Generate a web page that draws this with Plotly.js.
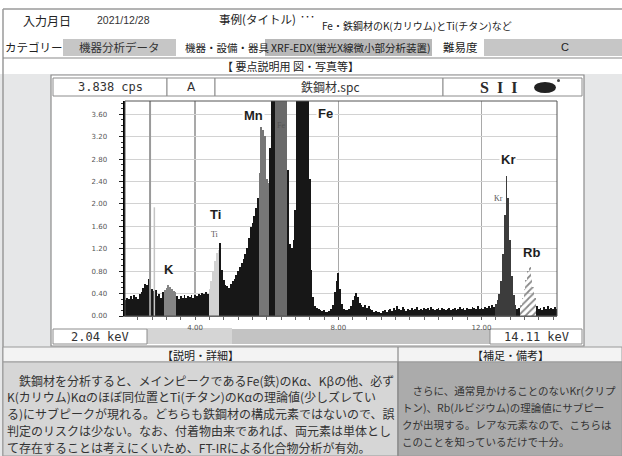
<!DOCTYPE html>
<html><head><meta charset="utf-8">
<script src="https://cdn.plot.ly/plotly-3.0.1.min.js"></script>
<style>html,body{margin:0;padding:0;background:#e6e7e8;}#chart{width:622px;height:456px;}</style>
</head><body><div id="chart"></div>
<script>
// ---------------- data ----------------
const channelStartKeV = 2.05;   // energy of first channel
const channelStepKeV = 0.05;    // channel width
const rangeStartKeV = 2.04;
const rangeEndKeV = 14.11;
const fullScaleCps = 3.838;
const counts = [
  // 2.05 - 3.00
  0.28,0.33,0.30,0.36,0.31,0.38,0.34,0.30,0.39,0.42,0.50,0.58,0.55,0.66,0.62,0.48,0.44,0.47,0.36,0.40,
  // 3.05 - 4.00
  0.33,0.42,0.46,0.50,0.55,0.52,0.48,0.45,0.42,0.35,0.31,0.36,0.33,0.38,0.32,0.36,0.34,0.37,0.33,0.38,
  // 4.05 - 5.00
  0.36,0.40,0.37,0.41,0.39,0.42,0.40,0.48,0.62,0.80,0.98,1.12,1.18,1.30,0.82,0.65,0.55,0.53,0.50,0.58,
  // 5.05 - 6.00
  0.62,0.66,0.74,0.80,0.88,0.95,1.02,1.10,1.22,1.40,1.58,1.66,1.78,1.92,2.10,2.55,3.38,3.32,3.22,2.45,
  // 6.05 - 7.00
  2.38,3.00,4.60,6.20,9.00,12.5,14.8,15.2,13.1,9.60,6.00,2.60,1.28,1.22,1.35,1.90,4.50,5.80,6.40,6.60,
  // 7.05 - 8.00
  6.20,5.40,4.30,2.45,0.83,0.34,0.18,0.14,0.12,0.10,0.09,0.11,0.08,0.07,0.09,0.12,0.20,0.42,0.62,0.76,
  // 8.05 - 9.00
  0.48,0.22,0.12,0.10,0.11,0.13,0.18,0.28,0.36,0.41,0.34,0.24,0.20,0.16,0.19,0.14,0.18,0.12,0.10,0.08,
  // 9.05 - 10.00
  0.09,0.07,0.08,0.06,0.09,0.11,0.08,0.10,0.12,0.09,0.15,0.11,0.17,0.13,0.10,0.16,0.12,0.09,0.13,0.11,
  // 10.05 - 11.00
  0.14,0.10,0.12,0.16,0.11,0.13,0.10,0.15,0.12,0.14,0.11,0.16,0.12,0.10,0.13,0.15,0.11,0.14,0.12,0.10,
  // 11.05 - 12.00
  0.13,0.15,0.11,0.12,0.14,0.10,0.13,0.16,0.12,0.14,0.11,0.15,0.13,0.12,0.16,0.14,0.12,0.17,0.13,0.15,
  // 12.05 - 13.00
  0.12,0.16,0.14,0.18,0.15,0.20,0.16,0.22,0.28,0.40,0.62,1.10,1.80,2.50,2.10,1.35,0.72,0.38,0.20,0.12,
  // 13.05 - 14.00
  0.14,0.20,0.32,0.48,0.64,0.80,0.88,0.72,0.52,0.32,0.18,0.12,0.15,0.11,0.16,0.13,0.17,0.12,0.15,0.13,
  // 14.05 - 14.10
  0.16,0.12
];
const roiNames   = ['K', 'Ti', 'Mn', 'Fe', 'Kr', 'Rb'];
const roiLowKeV  = [3.12, 4.37, 5.77, 6.22, 12.38, 13.08];
const roiHighKeV = [3.47, 4.67, 6.07, 6.57, 12.97, 13.52];
const markerEnergies = [2.74, 2.86];
const markerHeights  = [3.838, 1.94];
const peakLabels = ['K', 'Ti', 'Mn', 'Fe', 'Kr', 'Rb'];
const lineLabels = ['Ti', 'Fe', 'Kr'];

// ---------------- styles ----------------
const roiColor = {K:'#858585', Ti:'#d2d2d2', Mn:'#777777', Fe:'#6a6a6a', Kr:'#3c3c3c', Rb:'#8a8a8a'};
const bgColor = '#171717';

const colors = [], pShapes = [], pBg = [];
counts.forEach((c, i) => {
  const e = channelStartKeV + i * channelStepKeV;
  let name = null;
  roiNames.forEach((n, k) => { if (e >= roiLowKeV[k] && e <= roiHighKeV[k]) name = n; });
  colors.push(name ? roiColor[name] : bgColor);
  pShapes.push(name === 'Rb' ? '/' : '');
  pBg.push(name === 'Rb' ? '#ffffff' : 'rgba(0,0,0,0)');
});

const W = 622, H = 456;
const px = v => v / W;
const py = v => 1 - v / H;
const JP = 'Noto Sans CJK JP, sans-serif';
const shapes = [], annotations = [];
function rect(x0, y0, x1, y1, fill, lc, lw, layer) {
  shapes.push({type:'rect', xref:'paper', yref:'paper', x0:px(x0), x1:px(x1), y0:py(y1), y1:py(y0),
    fillcolor: fill || 'rgba(0,0,0,0)', line:{color: lc || 'rgba(0,0,0,0)', width: lc ? (lw || 1) : 0}, layer: layer || 'below'});
}
function line(x0, y0, x1, y1, color, lw, layer) {
  shapes.push({type:'line', xref:'paper', yref:'paper', x0:px(x0), x1:px(x1), y0:py(y0), y1:py(y1),
    line:{color, width: lw || 1}, layer: layer || 'below'});
}
function txt(t, x, y, size, o) {
  o = o || {};
  annotations.push({text:t, xref:'paper', yref:'paper', x:px(x), y:py(y), xanchor:o.anchor || 'left', yanchor:'middle',
    showarrow:false, borderpad:0, font:{family:o.family || JP, size, color:o.color || '#222'}});
}

// ---- top form ----
rect(0, 0, 622, 74, '#ffffff');
line(3, 9, 622, 9, '#9a9a9a', 1.5);
line(3, 9, 3, 456, '#9a9a9a', 1.5);
txt('入力月日', 22, 20, 12);
txt('2021/12/28', 96, 20, 10.5, {family:'Liberation Sans, sans-serif', color:'#333'});
txt('事例(タイトル)', 218, 19, 11.5);
txt('･･･', 299, 17, 10);
txt('Fe・鉄鋼材のK(カリウム)とTi(チタン)など', 321, 25, 10);
txt('カテゴリー', 4, 47, 11.5);
rect(63, 39, 176, 56, '#c6c6c6');
txt('機器分析データ', 120, 47, 11.5, {anchor:'center', color:'#333'});
txt('機器・設備・器具', 184, 47, 10.5);
rect(265, 39, 432, 56, '#b8b8b8');
txt('XRF-EDX(蛍光X線微小部分析装置)', 350, 47, 10.5, {anchor:'center'});
txt('難易度', 442, 47, 11.5);
rect(484, 39, 622, 56, '#c6c6c6');
txt('C', 565, 47, 11, {anchor:'center', family:'Liberation Sans, sans-serif'});
line(3, 58, 622, 58, '#8a8a8a', 1.2);
txt('【 要点説明用 図・写真等】', 290, 66, 11, {anchor:'center'});

// ---- chart panel ----
rect(51, 75, 584, 346, '#ffffff', '#8c8c8c', 1.2);
const hdr = [[53,167],[167,215],[215,443],[443,582]];
hdr.forEach(h => rect(h[0], 78, h[1], 96, '#ffffff', '#8c8c8c', 1));
txt(fullScaleCps.toFixed(3) + ' cps', 110, 87, 12, {anchor:'center', family:'DejaVu Sans Mono, monospace', color:'#333'});
txt('A', 191, 87, 12, {anchor:'center', family:'DejaVu Sans, sans-serif', color:'#333'});
txt('鉄鋼材.spc', 330, 87, 12, {anchor:'center', color:'#333'});
txt('<b>S\u2002I\u2002I</b>', 498, 88, 16, {anchor:'center', family:'Liberation Serif, serif', color:'#2a2a2a'});
shapes.push({type:'circle', xref:'paper', yref:'paper', x0:px(534), x1:px(556), y0:py(93), y1:py(82), fillcolor:'#222', line:{width:0}, layer:'above'});
shapes.push({type:'circle', xref:'paper', yref:'paper', x0:px(557), x1:px(560), y0:py(82), y1:py(79), fillcolor:'#444', line:{width:0}, layer:'above'});
// footer
rect(147, 329, 490, 344, '#c3c3c3');
rect(147, 328, 232, 344, '#d5d5d5');
rect(53, 329, 147, 344, '#ffffff', '#8c8c8c', 1);
rect(490, 329, 582, 344, '#ffffff', '#8c8c8c', 1);
txt(rangeStartKeV.toFixed(2) + ' keV', 100, 337, 12, {anchor:'center', family:'DejaVu Sans Mono, monospace', color:'#333'});
txt(rangeEndKeV.toFixed(2) + ' keV', 536, 337, 12, {anchor:'center', family:'DejaVu Sans Mono, monospace', color:'#333'});
// plot frame
rect(125, 101, 557, 316, null, '#555555', 1, 'above');

// ---- bottom section ----
rect(3, 347, 622, 362, '#f3f3f3', '#9a9a9a', 1);
rect(3, 362, 398, 456, '#d6d6d6', '#9a9a9a', 1);
rect(398, 362, 622, 456, '#ababab', '#9a9a9a', 1);
line(398, 347, 398, 456, '#8a8a8a', 1.2);
txt('【説明・詳細】', 200, 355, 11, {anchor:'center'});
txt('【補足・備考】', 510, 355, 11, {anchor:'center'});
const leftLines = [
  '\u3000鉄鋼材を分析すると、メインピークであるFe(鉄)のKα、Kβの他、必ず',
  'K(カリウム)Kαのほぼ同位置とTi(チタン)のKαの理論値(少しズレてい',
  'る)にサブピークが現れる。どちらも鉄鋼材の構成元素ではないので、誤',
  '判定のリスクは少ない。なお、付着物由来であれば、両元素は単体とし',
  'て存在することは考えにくいため、FT-IRによる化合物分析が有効。'
];
leftLines.forEach((t, i) => txt(t, 6, 380 + i * 16.8, 12, {color:'#333'}));
const rightLines = [
  '\u3000さらに、通常見かけることのないKr(クリプ',
  'トン)、Rb(ルビジウム)の理論値にサブピー',
  'クが出現する。レアな元素なので、こちらは',
  'このことを知っているだけで十分。'
];
rightLines.forEach((t, i) => txt(t, 401, 390 + i * 17, 10.5, {color:'#333'}));

// ---- plot labels ----
const peakLabelPos = [[3.27, 0.83], [4.58, 1.82], [5.62, 3.58], [7.63, 3.62], [12.74, 2.79], [13.41, 1.13]];
peakLabels.forEach((t, i) => annotations.push({text:'<b>' + t + '</b>', xref:'x', yref:'y', x:peakLabelPos[i][0], y:peakLabelPos[i][1],
  showarrow:false, bgcolor: (t === 'Mn' || t === 'Fe' || t === 'Kr') ? '#ffffff' : 'rgba(0,0,0,0)',
  font:{family:'Liberation Sans, Arial, sans-serif', size:13, color:'#1e1e1e'}}));
const lineLabelPos = [[4.55, 1.46], [6.40, 3.40], [12.47, 2.10]];
lineLabels.forEach((t, i) => annotations.push({text:t, xref:'x', yref:'y', x:lineLabelPos[i][0], y:lineLabelPos[i][1],
  showarrow:false, font:{family:'Liberation Serif, serif', size:8, color:'#555'}}));

const traces = [
  {type:'bar', x0:channelStartKeV, dx:channelStepKeV, y:counts, width:channelStepKeV,
   marker:{color:colors, line:{width:0}, pattern:{shape:pShapes, bgcolor:pBg, fgcolor:'#8a8a8a', size:5, solidity:0.35, fillmode:'replace'}},
   hoverinfo:'skip', showlegend:false},
  {type:'scatter', mode:'lines', x:[markerEnergies[0], markerEnergies[0]], y:[0, markerHeights[0]],
   line:{color:'#9a9a9a', width:2}, hoverinfo:'skip', showlegend:false},
  {type:'scatter', mode:'lines', x:[markerEnergies[1], markerEnergies[1]], y:[0, markerHeights[1]],
   line:{color:'#c4c4c4', width:1.5}, hoverinfo:'skip', showlegend:false}
];

const layout = {
  width:W, height:H, margin:{l:0, r:0, t:0, b:0},
  paper_bgcolor:'#e6e7e8', plot_bgcolor:'#ffffff',
  bargap:0, barmode:'overlay', showlegend:false,
  xaxis:{domain:[px(125), px(557)], range:[rangeStartKeV, rangeEndKeV], tick0:0, dtick:4, tickformat:'.2f',
    showline:true, linecolor:'#777', linewidth:1, ticks:'outside', ticklen:3, tickcolor:'#555',
    tickfont:{family:'DejaVu Sans, sans-serif', size:7, color:'#555'}, ticklabelstandoff:2,
    showgrid:true, gridcolor:'#a9a9a9', gridwidth:1.5, zeroline:false, fixedrange:true,
    minor:{tick0:0, dtick:0.4, ticks:'outside', ticklen:3, tickcolor:'#666', showgrid:false}},
  yaxis:{domain:[py(316), py(101)], range:[0, fullScaleCps], tick0:0, dtick:0.4, tickformat:'.2f',
    showline:true, linecolor:'#000', linewidth:2.5, ticks:'outside', ticklen:4, tickcolor:'#222',
    tickfont:{family:'DejaVu Sans, sans-serif', size:7, color:'#555'}, ticklabelstandoff:10,
    showgrid:true, gridcolor:'#d2d2d2', gridwidth:1, zeroline:false, fixedrange:true,
    minor:{tick0:0, dtick:0.1, ticks:'outside', ticklen:2, tickcolor:'#333', showgrid:false}},
  shapes, annotations
};
Plotly.newPlot('chart', traces, layout, {staticPlot:true, displayModeBar:false});
</script></body></html>
